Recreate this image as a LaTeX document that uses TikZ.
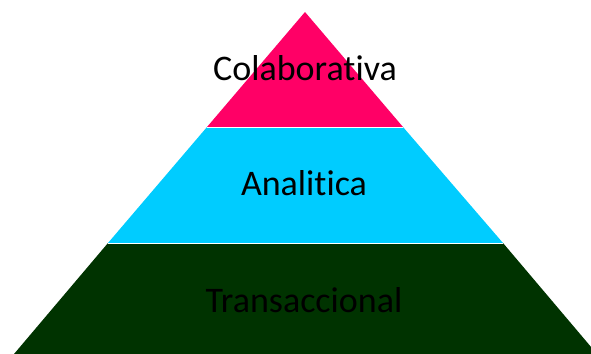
\documentclass[tikz,border=0pt]{standalone}
\usepackage{fontspec}
\setmainfont{Carlito}[Ligatures={NoCommon}]
\definecolor{colabpink}{HTML}{FF0066}
\definecolor{analcyan}{HTML}{00CCFF}
\definecolor{transgreen}{HTML}{003300}
\tikzstyle{seam}=[draw=white, line width=0.8pt]
\tikzstyle{tiertext}=[anchor=base, inner sep=0pt, text=black, font=\fontsize{36}{40}\selectfont]

\begin{document}
\begin{tikzpicture}[x=1pt, y=-1pt]
    \useasboundingbox (0,0) rectangle (591,353);
    \clip (0,0) rectangle (591,353);
    \coordinate (apex) at (305, 12);
    \coordinate (tl) at (207, 127);
    \coordinate (tr) at (403, 127);
    \coordinate (ml) at (108, 243);
    \coordinate (mr) at (503, 243);
    \coordinate (bl) at (14, 354);
    \coordinate (br) at (597, 354);
    \fill[transgreen] (ml) -- (mr) -- (br) -- (bl) -- cycle;
    \fill[analcyan] (tl) -- (tr) -- (mr) -- (ml) -- cycle;
    \fill[colabpink] (apex) -- (tr) -- (tl) -- cycle;
    \draw[seam] (tl) -- (tr) (ml) -- (mr);
    \node[tiertext] (colab) at (305, 80) {Colaborativa};
    \node[tiertext] (anal) at (304, 195) {Analitica};
    \node[tiertext] (trans) at (304, 312) {Transaccional};
\end{tikzpicture}
\end{document}
